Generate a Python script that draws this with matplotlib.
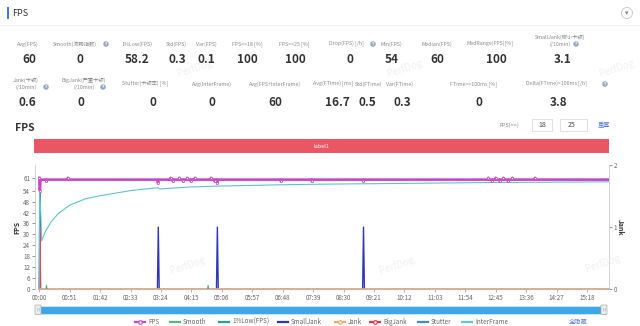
import numpy as np
import matplotlib
matplotlib.use("Agg")
import matplotlib.pyplot as plt
from matplotlib.patches import Rectangle, Ellipse, FancyBboxPatch
from matplotlib.lines import Line2D

plt.rcParams['font.family'] = ['Noto Sans CJK SC', 'DejaVu Sans']

# --- data -------------------------------------------------------------
row1_labels = ["Avg(FPS)", "Smooth(流畅指数)", "1%Low(FPS)", "Std(FPS)", "Var(FPS)",
               "FPS>=18 [%]", "FPS>=25 [%]", "Drop(FPS) [/h]", "Min(FPS)",
               "Median(FPS)", "MedRange(FPS)[%]", "SmallJank(微小卡顿)\n(/10min)"]
row1_values = ["60", "0", "58.2", "0.3", "0.1", "100", "100", "0", "54", "60", "100", "3.1"]

row2_labels = ["Jank(卡顿)\n(/10min)", "BigJank(严重卡顿)\n(/10min)", "Stutter(卡顿率) [%]",
               "Avg(InterFrame)", "Avg(FPS+InterFrame)", "Avg(FTime) [ms]", "Std(FTime)",
               "Var(FTime)", "FTime>=100ms [%]", "Delta(FTime)>100ms [/h]"]
row2_values = ["0.6", "0", "0", "0", "60", "16.7", "0.5", "0.3", "0", "3.8"]

time_labels = ["00:00", "00:51", "01:42", "02:33", "03:24", "04:15", "05:06", "05:57",
               "06:48", "07:39", "08:30", "09:21", "10:12", "11:03", "11:54", "12:45",
               "13:36", "14:27", "15:18"]

# FPS (seconds, fps) - flat at 60 with small wobbles
fps_t = [0, 1, 2, 11, 12, 13, 47, 48, 49, 198, 199, 200, 219, 220, 221, 223, 224, 225,
         234, 235, 236, 240, 241, 242, 247, 248, 249, 253, 254, 255, 260, 261, 262,
         287, 288, 289, 293, 294, 295, 297, 298, 299, 404, 405, 406, 456, 457, 458,
         542, 543, 544, 752, 753, 754, 758, 759, 760, 764, 765, 766, 771, 772, 773,
         777, 778, 779, 785, 786, 787, 792, 793, 794, 830, 831, 832, 955]
fps_v = [61, 54, 60, 60, 59, 60, 60, 61, 60, 60, 58, 60, 60, 61, 60, 60, 59, 60,
         60, 61, 60, 60, 59, 60, 60, 61, 60, 60, 59, 60, 60, 61, 60,
         60, 61, 60, 60, 59, 60, 60, 58, 60, 60, 59, 60, 60, 59, 60,
         60, 59, 60, 60, 61, 60, 60, 59, 60, 60, 61, 60, 60, 59, 60,
         60, 61, 60, 60, 59, 60, 60, 61, 60, 60, 61, 60, 60]

interframe_t = [0, 0.5, 4, 10, 20, 32, 51, 77, 102, 153, 199, 202, 255, 306, 408, 470,
                600, 750, 955]
interframe_v = [0, 59.5, 26.5, 31.5, 37, 41.5, 46, 49.5, 51.2, 54, 55.6, 54.9, 56, 56.5,
                57.2, 57.5, 57.9, 58.4, 58.8]

smooth_t = [11, 12, 13, np.nan, 282, 283, 284]
smooth_v = [0, 2.2, 0, np.nan, 0, 2.2, 0]

# jank counts (right axis)
smalljank_t = [0, 1, 2, np.nan, 198, 199.5, 201, np.nan, 297, 298.5, 300, np.nan, 542, 543.5, 545]
smalljank_v = [0, 1.75, 0, np.nan, 0, 1, 0, np.nan, 0, 1, 0, np.nan, 0, 1, 0]
jank_t = [0.4, 1.2, 2.0]
jank_v = [0, 1, 0]

baseline_t = [0, 955]
baseline_v = [0, 0]

legend_names = ["FPS", "Smooth", "1%Low(FPS)", "SmallJank", "Jank", "BigJank", "Stutter", "InterFrame"]
legend_colors = ["#c846c8", "#52b87e", "#24a08c", "#2f37b8", "#f2a765", "#e0374e", "#3d8bd6", "#5cc9d6"]
legend_marker = [True, False, False, False, True, True, False, False]
legend_x = [140, 175, 224, 283, 340, 375, 423, 467]

# --- figure -----------------------------------------------------------
W, H = 640, 326
fig = plt.figure(figsize=(6.4, 3.26), dpi=100, facecolor="white")


def fx(x):
    return x / W


def fy(y):
    return 1 - y / H


def txt(x, y, s, **kw):
    kw.setdefault("ha", "center")
    kw.setdefault("va", "center")
    return fig.text(fx(x), fy(y), s, **kw)


def rect(x0, y0, x1, y1, **kw):
    fig.patches.append(Rectangle((fx(x0), fy(y1)), (x1 - x0) / W, (y1 - y0) / H,
                                 transform=fig.transFigure, **kw))


def icon(x, y):
    fig.patches.append(Ellipse((fx(x), fy(y)), 5.5 / W, 5.5 / H, transform=fig.transFigure,
                               facecolor="#9aa7bd", edgecolor="none"))
    txt(x, y + 0.2, "?", fontsize=3, color="white", fontweight="bold", family="DejaVu Sans")


def label(x, y, s):
    # two-line labels are drawn line by line, 7 px apart
    lines = s.split("\n")
    y0 = y - 3.5 * (len(lines) - 1)
    for i, ln in enumerate(lines):
        txt(x, y0 + 7 * i, ln, fontsize=3.8, color="#888888")


# header
rect(7, 7, 9, 19, facecolor="#4a74e0", edgecolor="none")
txt(12, 13, "FPS", fontsize=6.5, ha="left", color="#333333")
fig.patches.append(Ellipse((fx(627), fy(13)), 11 / W, 11 / H, transform=fig.transFigure,
                           facecolor="white", edgecolor="#c8c8c8", lw=0.6))
txt(627, 13.5, "▾", fontsize=5, color="#888888", family="DejaVu Sans")
fig.add_artist(Line2D([0, 1], [fy(25), fy(25)], transform=fig.transFigure, color="#eeeeee", lw=0.6))

# stats row 1
row1_lx = [28, 75, 137, 176, 206, 247, 294, 346, 391, 437, 490, 560]
row1_vx = [29, 80, 137, 177, 206, 247, 295, 350, 392, 437, 496, 563]
for lab, val, lx, vx in zip(row1_labels, row1_values, row1_lx, row1_vx):
    label(lx, 44 if "\n" not in lab else 40.5, lab)
    txt(vx, 59.5, val, fontsize=8.5, color="#333333", fontweight="bold")
icon(106, 44)
icon(373, 44)
icon(576, 44)

# stats row 2
row2_lx = [26, 84, 145, 212, 275, 333, 368, 400, 474, 556]
row2_vx = [27.5, 81, 153, 212, 275, 337, 367, 402, 479, 559]
for lab, val, lx, vx in zip(row2_labels, row2_values, row2_lx, row2_vx):
    label(lx, 84 if "\n" not in lab else 83.5, lab)
    txt(vx, 103, val, fontsize=8.5, color="#333333", fontweight="bold")
icon(46, 87)
icon(103, 87)
icon(605, 84)

# chart header
txt(15, 127.5, "FPS", fontsize=7.5, ha="left", fontweight="bold", color="#333333")
txt(519, 125, "FPS(>=)", fontsize=4.0, ha="right", color="#888888")
rect(532, 119.5, 552, 130.5, facecolor="white", edgecolor="#dcdcdc", lw=0.6)
rect(560, 119.5, 587, 130.5, facecolor="white", edgecolor="#dcdcdc", lw=0.6)
txt(542, 125, "18", fontsize=5, color="#444444")
txt(572, 125, "25", fontsize=5, color="#444444")
txt(604, 125, "重置", fontsize=4.5, color="#5a7fe0")

rect(34, 139, 609, 153, facecolor="#eb5664", edgecolor="none")
txt(321, 146, "label1", fontsize=4.0, color="white")

# --- chart -------------------------------------------------------------
ax = fig.add_axes([fx(35), fy(289.3), (609 - 35) / W, (289.3 - 165) / H])
ax2 = ax.twinx()
ax.set_zorder(ax2.get_zorder() + 1)
ax.patch.set_visible(False)

ax.plot(baseline_t, baseline_v, color="#d3a88f", lw=1.3, zorder=2, clip_on=False)
ax.plot(smooth_t, smooth_v, color=legend_colors[1], lw=0.8, zorder=2)
ax.plot(interframe_t, interframe_v, color="#5cc4cf", lw=0.8, zorder=3)
ax.plot(fps_t, fps_v, color=legend_colors[0], lw=1.9, zorder=4, solid_joinstyle="round")
dip_t = [t for t, v in zip(fps_t, fps_v) if v != 60]
dip_v = [v for v in fps_v if v != 60]
ax.plot(dip_t, dip_v, ls="none", marker="o", ms=1.6, mfc="white",
        mec=legend_colors[0], mew=0.5, zorder=5)

ax2.plot(smalljank_t, smalljank_v, color=legend_colors[3], lw=1.0)
ax2.plot(jank_t, jank_v, color="#e0475a", lw=1.0)

xt = [int(s[:2]) * 60 + int(s[3:]) for s in time_labels]
ax.set_xlim(-7.2, 955)
ax.set_xticks(xt)
ax.set_xticklabels(time_labels)
ax.set_ylim(0, 68)
ax.set_yticks([0, 6, 12, 18, 24, 30, 36, 42, 48, 54, 61])
ax2.set_ylim(0, 2)
ax2.set_yticks([0, 1, 2])

for a in (ax, ax2):
    a.tick_params(labelsize=4.5, colors="#666666", length=2, width=0.5, pad=1.5)
    for side in ("top", "bottom"):
        a.spines[side].set_visible(False)
    a.spines["left"].set_color("#cccccc")
    a.spines["right"].set_color("#cccccc")
    a.spines["left"].set_linewidth(0.6)
    a.spines["right"].set_linewidth(0.6)
ax.spines["right"].set_visible(False)
ax2.spines["left"].set_visible(False)
ax.tick_params(axis="x", colors="#999999", labelcolor="#666666")
ax.set_ylabel("FPS", fontsize=5, color="#333333", labelpad=2, fontweight="bold")
ax2.set_ylabel("Jank", fontsize=5, color="#333333", labelpad=5, rotation=270, fontweight="bold")

# watermarks
for (x, y) in [(188, 265), (397, 265), (603, 263), (195, 68), (405, 68), (617, 68)]:
    txt(x, y, "PerfDog", fontsize=7, color="#f1f1f1", rotation=18, zorder=0)

# slider
rect(36, 306, 606, 313.5, facecolor="#3ea7e6", edgecolor="#d6e6f2", lw=0.6)
for hx in (38, 604):
    fig.patches.append(FancyBboxPatch((fx(hx - 3), fy(314.5)), 6 / W, 9.5 / H,
                                      boxstyle="round,pad=0,rounding_size=0.002",
                                      transform=fig.transFigure, facecolor="#eeeeee",
                                      edgecolor="#aaaaaa", lw=0.5))
    txt(hx, 309.8, "|||", fontsize=2.5, color="#888888", family="DejaVu Sans")

# legend
for name, c, mk, lx in zip(legend_names, legend_colors, legend_marker, legend_x):
    fig.add_artist(Line2D([fx(lx - 5), fx(lx + 5)], [fy(322), fy(322)], transform=fig.transFigure,
                          color=c, lw=1.6))
    if mk:
        fig.add_artist(Line2D([fx(lx)], [fy(322)], transform=fig.transFigure, marker="o", ms=2.6,
                              mfc="white", mec=c, mew=0.8, ls="none"))
    txt(lx + 8, 322, name, fontsize=4.5, ha="left", color="#666666")
txt(578, 322, "全隐藏", fontsize=4.5, color="#5a7fe0")

fig.savefig("out.png", dpi=100, facecolor="white")
